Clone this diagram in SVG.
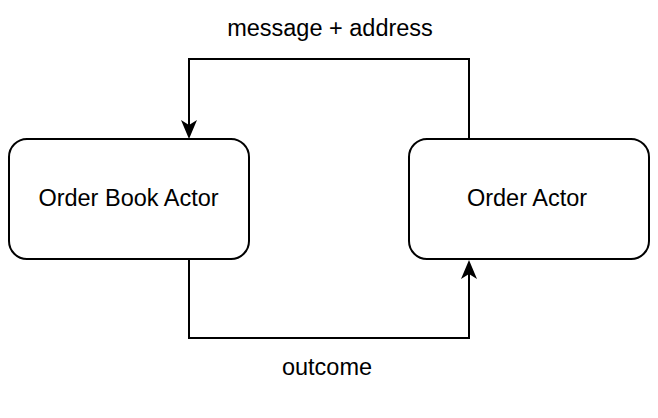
<svg xmlns="http://www.w3.org/2000/svg" width="658" height="418" viewBox="0 0 658 418">
<style>
.box{fill:#fff;stroke:#000;stroke-width:2}
.edge{fill:none;stroke:#000;stroke-width:2}
.lbl{font-family:"Liberation Sans",Arial,sans-serif;font-size:23.5px;fill:#000;text-anchor:middle}
</style>
<defs>
<marker id="arr" viewBox="0 0 19 16" refX="5" refY="8" markerWidth="19" markerHeight="16" markerUnits="userSpaceOnUse" orient="auto">
<path d="M0,0 L19,8 L0,16 L5,8 Z" fill="#000"/>
</marker>
</defs>
<rect width="658" height="418" fill="#fff"/>
<g id="connectors">
<path class="edge" d="M469,139 V59 H189 V125" marker-end="url(#arr)"/>
<path class="edge" d="M189,259 V338 H469 V274" marker-end="url(#arr)"/>
<text class="lbl" x="330" y="36">message + address</text>
<text class="lbl" x="327" y="375">outcome</text>
</g>
<g id="order-book-actor">
<rect class="box" x="9" y="139" width="240" height="120" rx="18"/>
<text class="lbl" x="128.5" y="206">Order Book Actor</text>
</g>
<g id="order-actor">
<rect class="box" x="409" y="139" width="240" height="120" rx="18"/>
<text class="lbl" x="527" y="206">Order Actor</text>
</g>
</svg>
